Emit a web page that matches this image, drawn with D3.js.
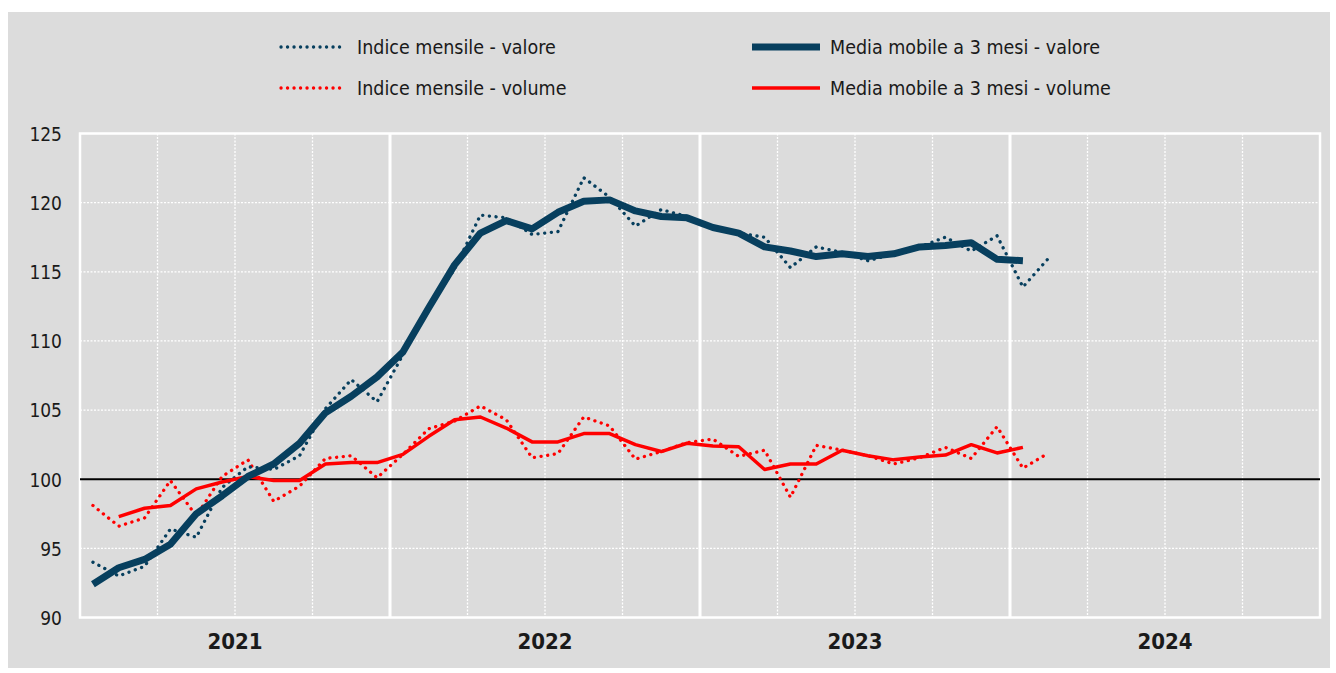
<!DOCTYPE html>
<html>
<head>
<meta charset="utf-8">
<script src="https://cdn.jsdelivr.net/npm/d3@7/dist/d3.min.js"></script>
<style>
    body { margin: 0; background: #ffffff; }
    text { font-family: "Liberation Sans Narrow", "Arial Narrow", "DejaVu Sans Condensed", sans-serif; fill: #1a1a1a; }
</style>
</head>
<body>
<div id="chart"></div>
<script>

// years shown on the x axis (12 months each, Jan 2021 = month 0)
const years = ["2021", "2022", "2023", "2024"]
const yTicks = [90, 95, 100, 105, 110, 115, 120, 125]

// monthly index, Jan 2021 - Feb 2024
const valoreMensile = [94.0, 93.0, 93.7, 96.4, 95.8, 99.4, 100.9, 100.7, 101.7, 105.1, 107.2, 105.6,
    109.0, 112.4, 115.2, 119.1, 118.9, 117.7, 117.9, 121.8, 120.4, 118.3, 119.5, 119.0,
    118.2, 117.8, 117.5, 115.3, 116.8, 116.4, 115.8, 116.3, 116.8, 117.5, 116.5, 117.6,
    113.9, 116.0]
const volumeMensile = [98.1, 96.6, 97.2, 99.9, 97.35, 100.2, 101.4, 98.4, 99.5, 101.5, 101.7, 100.1,
    101.8, 103.65, 104.2, 105.3, 104.3, 101.55, 101.85, 104.5, 103.85, 101.45, 102.0, 102.65,
    102.9, 101.65, 102.1, 98.7, 102.45, 102.1, 101.7, 101.1, 101.55, 102.3, 101.5, 103.8,
    100.8, 101.9]

// 3-month moving averages
const valoreMedia = [92.4, 93.6, 94.2, 95.3, 97.5, 98.8, 100.2, 101.1, 102.6, 104.8, 106.0, 107.4,
    109.2, 112.4, 115.5, 117.8, 118.7, 118.1, 119.3, 120.1, 120.2, 119.4, 119.0, 118.9,
    118.2, 117.8, 116.8, 116.5, 116.1, 116.3, 116.1, 116.3, 116.8, 116.9, 117.1, 115.9,
    115.8]
// starts Feb 2021
const volumeMediaStart = 1
const volumeMedia = [97.3, 97.9, 98.1, 99.3, 99.8, 100.2, 99.9, 99.9, 101.1, 101.2, 101.2,
    101.8, 103.1, 104.3, 104.5, 103.7, 102.7, 102.7, 103.3, 103.3, 102.5, 102.0, 102.6,
    102.4, 102.35, 100.7, 101.1, 101.1, 102.1, 101.7, 101.4, 101.6, 101.75, 102.5, 101.9,
    102.3]

const BLUE = "#073f5e"
const RED = "#ff0000"
const BG = "#dcdcdc"

const W = 1336, H = 673
const margin = { top: 133.5, right: 16, bottom: 55, left: 80 }
const width = W - margin.left - margin.right
const height = H - margin.top - margin.bottom - 0.5

const svg = d3.select("#chart").append("svg")
    .attr("width", W)
    .attr("height", H)

// grey panel
svg.append("rect")
    .attr("x", 8).attr("y", 12)
    .attr("width", 1322).attr("height", 656)
    .attr("fill", BG)

const g = svg.append("g")
    .attr("transform", "translate(" + margin.left + "," + margin.top + ")")

// scales
const nMonths = years.length * 12
const x = d3.scaleLinear().domain([0, nMonths]).range([0, width])
const y = d3.scaleLinear().domain([90, 125]).range([height, 0])

// horizontal grid (dotted)
g.selectAll(".hgrid")
    .data(yTicks.filter(d => d > 90 && d < 125 && d !== 100))
    .enter().append("line")
    .attr("class", "hgrid")
    .attr("x1", 0).attr("x2", width)
    .attr("y1", d => y(d)).attr("y2", d => y(d))
    .attr("stroke", "#ffffff")
    .attr("stroke-width", 1.3)
    .attr("stroke-dasharray", "2,1.5")

// vertical grid: quarters dotted, years solid
const quarters = d3.range(3, nMonths, 3).filter(m => m % 12 !== 0)
g.selectAll(".qgrid")
    .data(quarters)
    .enter().append("line")
    .attr("class", "qgrid")
    .attr("x1", d => x(d)).attr("x2", d => x(d))
    .attr("y1", 0).attr("y2", height)
    .attr("stroke", "#ffffff")
    .attr("stroke-width", 1.3)
    .attr("stroke-dasharray", "2,1.5")

g.selectAll(".ygrid")
    .data(d3.range(12, nMonths, 12))
    .enter().append("line")
    .attr("class", "ygrid")
    .attr("x1", d => x(d)).attr("x2", d => x(d))
    .attr("y1", 0).attr("y2", height)
    .attr("stroke", "#ffffff")
    .attr("stroke-width", 3)

// plot border
g.append("rect")
    .attr("x", 0).attr("y", 0)
    .attr("width", width).attr("height", height)
    .attr("fill", "none")
    .attr("stroke", "#ffffff")
    .attr("stroke-width", 2.5)

// base line at 100
g.append("line")
    .attr("x1", 0).attr("x2", width)
    .attr("y1", y(100)).attr("y2", y(100))
    .attr("stroke", "#000000")
    .attr("stroke-width", 2)

// y axis labels
const yAxis = d3.axisLeft(y).tickValues(yTicks).tickSize(0).tickPadding(18)
g.append("g")
    .attr("class", "y-axis")
    .call(yAxis)
    .call(a => a.select(".domain").remove())
    .selectAll("text")
    .attr("font-size", "19px")
    .attr("dy", "0.36em")
    .style("font-family", "\"Liberation Sans Narrow\", \"Arial Narrow\", \"DejaVu Sans Condensed\", sans-serif")
    .attr("fill", "#1a1a1a")

// year labels
g.selectAll(".year-label")
    .data(years)
    .enter().append("text")
    .attr("class", "year-label")
    .text(d => d)
    .attr("x", (d, i) => x(i * 12 + 6))
    .attr("y", height + 31)
    .attr("text-anchor", "middle")
    .attr("font-size", "22px")
    .attr("font-weight", "bold")
    .attr("fill", "#000000")

// lines
const line = d3.line()
    .x(d => x(d.m + 0.5))
    .y(d => y(d.v))

const toPoints = (arr, start) => arr.map((v, i) => ({ m: i + start, v: v }))

const series = [
    { data: toPoints(volumeMensile, 0), color: RED, width: 3.3, dotted: true },
    { data: toPoints(valoreMensile, 0), color: BLUE, width: 3.3, dotted: true },
    { data: toPoints(volumeMedia, volumeMediaStart), color: RED, width: 3.5, dotted: false },
    { data: toPoints(valoreMedia, 0), color: BLUE, width: 7, dotted: false }
]

series.forEach(s => {
    g.append("path")
        .datum(s.data)
        .attr("fill", "none")
        .attr("stroke", s.color)
        .attr("stroke-width", s.width)
        .attr("stroke-linejoin", "round")
        .attr("stroke-linecap", s.dotted ? "round" : "butt")
        .attr("stroke-dasharray", s.dotted ? "0.1,6.6" : null)
        .attr("d", line)
})

// legend
const legendItems = [
    { label: "Indice mensile - valore", color: BLUE, width: 3.3, dotted: true, x: 280, y: 47 },
    { label: "Indice mensile - volume", color: RED, width: 3.3, dotted: true, x: 280, y: 88 },
    { label: "Media mobile a 3 mesi - valore", color: BLUE, width: 7, dotted: false, x: 752, y: 47 },
    { label: "Media mobile a 3 mesi - volume", color: RED, width: 3.5, dotted: false, x: 752, y: 88 }
]

const legend = svg.append("g").attr("class", "legend")

legend.selectAll("line")
    .data(legendItems)
    .enter().append("line")
    .attr("x1", d => d.x + (d.dotted ? 1 : 0))
    .attr("x2", d => d.dotted ? d.x + 65 : d.x + 68)
    .attr("y1", d => d.y).attr("y2", d => d.y)
    .attr("stroke", d => d.color)
    .attr("stroke-width", d => d.width)
    .attr("stroke-linecap", d => d.dotted ? "round" : "butt")
    .attr("stroke-dasharray", d => d.dotted ? "0.1,6.4" : null)

legend.selectAll("text")
    .data(legendItems)
    .enter().append("text")
    .text(d => d.label)
    .attr("x", d => d.dotted ? d.x + 77 : d.x + 78)
    .attr("y", d => d.y)
    .attr("dy", "0.36em")
    .attr("font-size", "19.5px")

</script>
</body>
</html>
